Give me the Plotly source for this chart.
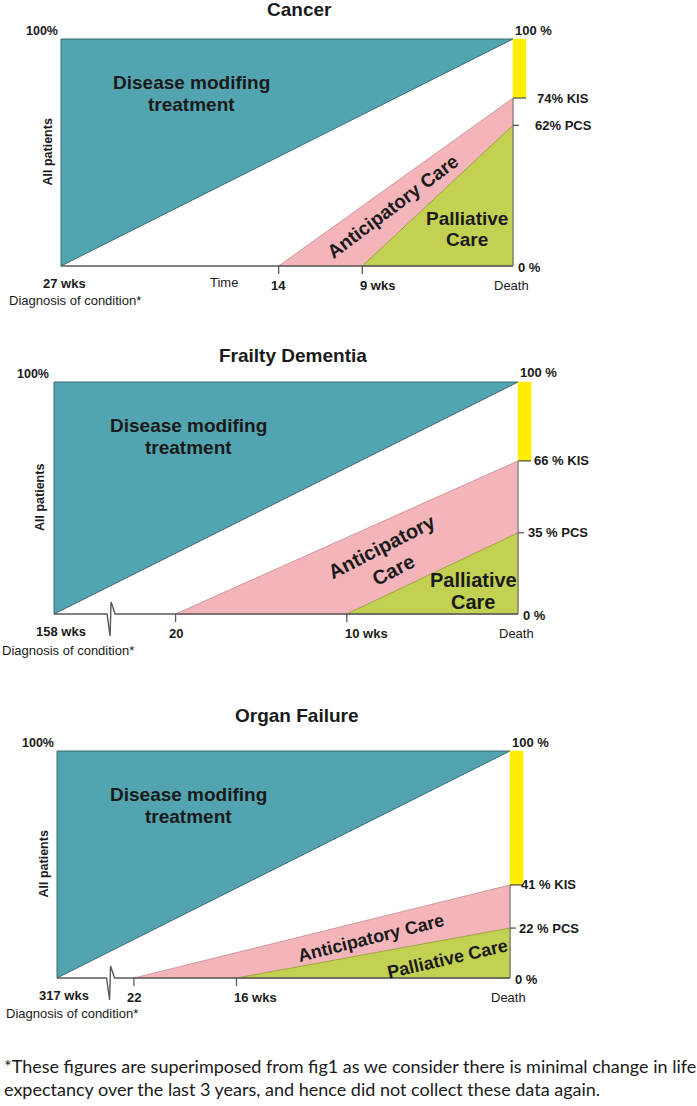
import plotly.graph_objects as go

# ---------------- data ----------------
panel_titles = ["Cancer", "Frailty Dementia", "Organ Failure"]
diagnosis_labels = ["27 wks", "158 wks", "317 wks"]
axis_span_wks = [27, 27.1, 26.5]          # weeks drawn on the time axis (axis broken in panels 2-3)
axis_break_wks = [None, 24.0, 23.6]
anticipatory_start_wks = [14, 20, 22]
palliative_start_wks = [9, 10, 16]
anticipatory_tick_text = ["14", "20", "22"]
palliative_tick_text = ["9 wks", "10 wks", "16 wks"]
kis_pct = [74, 66, 41]
pcs_pct = [62, 35, 22]
kis_text = ["74% KIS", "66 % KIS", "41 % KIS"]
pcs_text = ["62% PCS", "35 % PCS", "22 % PCS"]
all_pct = 100
footnote_lines = [
    "*These figures are superimposed from fig1 as we consider there is minimal change in life",
    "expectancy over the last 3 years, and hence did not collect these data again.",
]

# ---------------- style ----------------
W, H = 697, 1106
FONT = "Liberation Sans, Arial, sans-serif"
TEAL = "#53A4B1"
PINK = "#F4B5BA"
GREEN = "#C3D152"
YELLOW = "#FFEE00"
DARK = "#4d4d4d"
boxes = [(61, 513, 39, 266), (54, 518, 382, 614), (57, 510, 751, 978)]   # plot box px (l, r, t, b)
bands = [(0, 340), (340, 700), (700, 1045)]
kis_shift = [22, 14, 9]
pcs_shift = [20, 8, 7]
free_labels = [
    dict(title=(299, 10), dmt=(191, 93), ant=(393, 207, -37, "Anticipatory Care"),
         pal=(467, 229, 0, ["Palliative", "Care"]), diag=(75, 300), time=(224, 283)),
    dict(title=(293, 355), dmt=(188, 437), ant=(388, 558, -27, "Anticipatory<br>Care"),
         pal=(473, 591, 0, ["Palliative", "Care"]), diag=(68, 650), time=None),
    dict(title=(297, 715), dmt=(188, 805), ant=(371, 938, -14, "Anticipatory Care"),
         pal=(447, 959, -13, "Palliative Care"), diag=(72, 1013), time=None),
]
big_sizes = [19, 20, 18]
LINE_GAP = 22

fig = go.Figure()
annotations = []


def paper_ann(px, py, text, size, bold=True, angle=0, xanchor="center", color="#1a1a1a", family=FONT):
    if isinstance(text, list):
        n = len(text)
        for k, tline in enumerate(text):
            paper_ann(px, py + (k - (n - 1) / 2) * LINE_GAP, tline, size, bold, angle, xanchor, color, family)
        return
    annotations.append(dict(
        xref="paper", yref="paper", x=px / W, y=1 - py / H, text=text, showarrow=False,
        xanchor=xanchor, yanchor="middle", textangle=angle,
        font=dict(family=family, size=size, color=color,
                  weight="bold" if bold else "normal")))


for i in range(3):
    sfx = "" if i == 0 else str(i + 1)
    xa, ya = "x" + sfx, "y" + sfx
    l, r, t, b = boxes[i]
    span = axis_span_wks[i]
    ppw = (r - l) / span
    ppp = (b - t) / all_pct
    Bt, Bb = bands[i]

    fig.layout["xaxis" + sfx] = dict(domain=[0, 1], range=[span + l / ppw, -(W - r) / ppw],
                                      visible=False, fixedrange=True, anchor=ya)
    fig.layout["yaxis" + sfx] = dict(domain=[1 - Bb / H, 1 - Bt / H],
                                      range=[(b - Bb) / ppp, (b - Bt) / ppp],
                                      visible=False, fixedrange=True, anchor=xa)

    ant, pal = anticipatory_start_wks[i], palliative_start_wks[i]
    kis, pcs = kis_pct[i], pcs_pct[i]
    bar_w = 13 / ppw

    def poly(x, y, fill, line_color, width=1.0):
        fig.add_trace(go.Scatter(x=x, y=y, xaxis=xa, yaxis=ya, mode="lines", fill="toself",
                                 fillcolor=fill, line=dict(color=line_color, width=width),
                                 hoverinfo="skip", showlegend=False))

    def line(x, y, color=DARK, width=1.4):
        fig.add_trace(go.Scatter(x=x, y=y, xaxis=xa, yaxis=ya, mode="lines",
                                 line=dict(color=color, width=width),
                                 hoverinfo="skip", showlegend=False))

    # disease modifying treatment
    poly([span, span, 0, span], [0, all_pct, all_pct, 0], TEAL, "#3b6b73", 1.0)
    # anticipatory care and palliative care
    poly([ant, 0, 0, ant], [0, kis, 0, 0], PINK, "#c58a90", 0.8)
    poly([pal, 0, 0, pal], [0, pcs, 0, 0], GREEN, "#8f9a3a", 0.8)
    # KIS yellow bar
    poly([0, -bar_w, -bar_w, 0, 0], [kis, kis, all_pct, all_pct, kis], YELLOW, YELLOW, 0.5)
    line([0, -bar_w], [kis, kis], DARK, 1.2)
    # right edge + PCS tick
    line([0, 0], [0, kis], "#777777", 1.0)
    line([0, -6 / ppw], [pcs, pcs], DARK, 1.2)
    # time axis (with break symbol for long trajectories)
    brk = axis_break_wks[i]
    if brk is None:
        line([span, 0], [0, 0], "#5a5a5a", 1.6)
    else:
        line([span, brk, brk - 3 / ppw, brk - 4 / ppw, brk - 8 / ppw, 0],
             [0, 0, -22 / ppp, 12 / ppp, 0, 0], "#5a5a5a", 1.4)
    # ticks
    line([ant, ant, None, pal, pal], [0, -8 / ppp, None, 0, -8 / ppp], "#5a5a5a", 1.3)

    def data_ann(x, y, text, xshift=0, yshift=0, xanchor="center", size=13, bold=True, angle=0):
        annotations.append(dict(
            xref=xa, yref=ya, x=x, y=y, text=text, showarrow=False, xanchor=xanchor,
            yanchor="middle", xshift=xshift, yshift=yshift, textangle=angle,
            font=dict(family=FONT, size=size, color="#1a1a1a",
                      weight="bold" if bold else "normal")))

    data_ann(ant, 0, anticipatory_tick_text[i], yshift=-19)
    data_ann(pal, 0, palliative_tick_text[i], xanchor="left", xshift=-4, yshift=-19)
    data_ann(span, 0, diagnosis_labels[i], xshift=[3, 7, 7][i], yshift=-17)
    data_ann(0, 0, "Death", xshift=-2, yshift=-19, bold=False)
    data_ann(0, 0, "0 %", xanchor="left", xshift=3, yshift=-1)
    data_ann(0, all_pct, "100 %", xanchor="left", xshift=0, yshift=9)
    data_ann(0, kis, kis_text[i], xanchor="left", xshift=kis_shift[i])
    data_ann(0, pcs, pcs_text[i], xanchor="left", xshift=pcs_shift[i])
    data_ann(span, all_pct, "100%", xshift=[-19, -21, -19][i], yshift=8, size=12.5)
    data_ann(span, all_pct / 2, "All patients", xshift=-14, size=12.5, angle=-90)

    fl = free_labels[i]
    sz = big_sizes[i]
    paper_ann(*fl["title"], panel_titles[i], 19)
    paper_ann(*fl["dmt"], ["Disease modifing", "treatment"], 19)
    ax_, ay_, aang, atxt = fl["ant"]
    paper_ann(ax_, ay_, atxt, sz, angle=aang)
    px_, py_, pang, ptxt = fl["pal"]
    paper_ann(px_, py_, ptxt, sz, angle=pang)
    paper_ann(*fl["diag"], "Diagnosis of condition*", 13, bold=False)
    if fl["time"] is not None:
        paper_ann(*fl["time"], "Time", 13, bold=False)

paper_ann(2, 1066, footnote_lines[0], 18, bold=False, xanchor="left", family="Lato, sans-serif")
paper_ann(2, 1089, footnote_lines[1], 18, bold=False, xanchor="left", family="Lato, sans-serif")

fig.update_layout(width=W, height=H, margin=dict(l=0, r=0, t=0, b=0),
                  paper_bgcolor="white", plot_bgcolor="rgba(0,0,0,0)",
                  annotations=annotations, showlegend=False)
fig.write_html("out.html", config={"displayModeBar": False},
               post_script="document.body.style.margin='0';")
